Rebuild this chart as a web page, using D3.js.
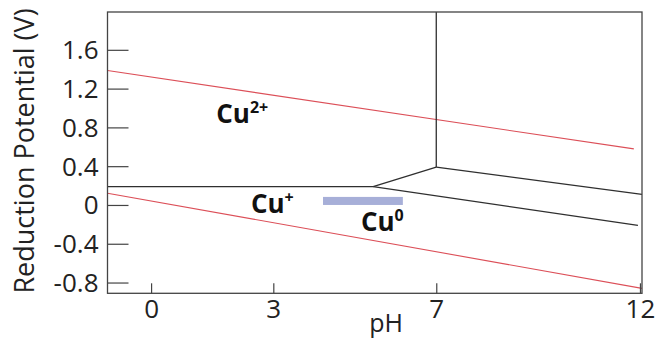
<!DOCTYPE html>
<html>
<head>
<meta charset="utf-8">
<script src="https://cdn.jsdelivr.net/npm/d3@7"></script>
<style>
  html, body { margin: 0; padding: 0; background: #fff; }
  svg { display: block; font-family: "Open Sans", "Noto Sans", sans-serif; }
</style>
</head>
<body>
<svg id="chart" width="657" height="339"></svg>
<script>
// ---- data ----
const xTicks = [0, 3, 7, 12];
const xTickLabels = ["0", "3", "7", "12"];
const yTicks = [-0.8, -0.4, 0, 0.4, 0.8, 1.2, 1.6];
const yTickLabels = ["-0.8", "-0.4", "0", "0.4", "0.8", "1.2", "1.6"];
const pHDomain = [-1.07, 12.05];
const eDomain = [-0.911, 1.99];

// species boundaries (pH, E)
const cu2CuPlus = [[-1.07, 0.19], [5.45, 0.19]];
const cu2Cu0 = [[5.45, 0.19], [7, 0.39]];
const cu2Vertical = [[7, 0.39], [7, 1.99]];
const cuOxideUpper = [[7, 0.39], [12.05, 0.11]];
const cuPlusCu0 = [[5.45, 0.19], [11.95, -0.21]];
// water stability lines
const waterO2 = [[-1.07, 1.386], [11.85, 0.578]];
const waterH2 = [[-1.07, 0.121], [12.05, -0.86]];
// highlighted bar
const barPH = [4.22, 6.18];
const barE = [0, 0.083];
// region labels
const speciesLabels = [
  { base: "Cu", sup: "2+", pH: 1.6, E: 0.85 },
  { base: "Cu", sup: "+", pH: 2.45, E: -0.08 },
  { base: "Cu", sup: "0", pH: 5.15, E: -0.27 }
];

// ---- drawing ----
const svg = d3.select("#chart");
const mLeft = 107.5, mRight = 642, mTop = 12, mBottom = 293.3;
const x = d3.scaleLinear().domain(pHDomain).range([mLeft, mRight]);
const y = d3.scaleLinear().domain(eDomain).range([mBottom, mTop]);

const line = d3.line().x(d => x(d[0])).y(d => y(d[1]));

// blue bar
svg.append("rect")
  .attr("x", x(barPH[0])).attr("width", x(barPH[1]) - x(barPH[0]))
  .attr("y", y(barE[1])).attr("height", y(barE[0]) - y(barE[1]))
  .attr("fill", "#a7afd8");

// red water lines
[waterO2, waterH2].forEach(d => {
  svg.append("path").attr("d", line(d))
    .attr("fill", "none").attr("stroke", "#dc4f58").attr("stroke-width", 1.1);
});

// black boundary lines
[cu2CuPlus, cu2Cu0, cu2Vertical, cuOxideUpper, cuPlusCu0].forEach(d => {
  svg.append("path").attr("d", line(d))
    .attr("fill", "none").attr("stroke", "#2f2f2f").attr("stroke-width", 1.3);
});

// axes
const yAxis = d3.axisLeft(y).tickValues(yTicks)
  .tickFormat((d, i) => yTickLabels[i]).tickSizeInner(-21).tickSizeOuter(0).tickPadding(9);
const gy = svg.append("g").attr("transform", `translate(${mLeft},0)`).call(yAxis);
gy.select(".domain").remove();
gy.selectAll(".tick line").attr("stroke", "#444").attr("stroke-width", 1.2);
gy.selectAll(".tick text").attr("font-size", 26).attr("fill", "#222")
  .attr("font-family", "'Open Sans', sans-serif").attr("dy", "0.34em");

const xAxis = d3.axisBottom(x).tickValues(xTicks)
  .tickFormat((d, i) => xTickLabels[i]).tickSizeInner(-10).tickSizeOuter(0).tickPadding(6);
const gx = svg.append("g").attr("transform", `translate(0,${mBottom})`).call(xAxis);
gx.select(".domain").remove();
gx.selectAll(".tick line").attr("stroke", "#444").attr("stroke-width", 1.2);
gx.selectAll(".tick text").attr("font-size", 26).attr("fill", "#222")
  .attr("font-family", "'Open Sans', sans-serif");

// frame
svg.append("rect")
  .attr("x", mLeft).attr("y", mTop).attr("width", mRight - mLeft).attr("height", mBottom - mTop)
  .attr("fill", "none").attr("stroke", "#444").attr("stroke-width", 1.3);

// axis titles
svg.append("text").text("pH")
  .attr("x", 386).attr("y", 332).attr("text-anchor", "middle")
  .attr("font-size", 25).attr("fill", "#222");
svg.append("text").text("Reduction Potential (V)")
  .attr("transform", "translate(34,151) rotate(-90)")
  .attr("text-anchor", "middle")
  .attr("font-size", 27).attr("fill", "#222");

// species labels
speciesLabels.forEach(l => {
  const t = svg.append("text")
    .attr("x", x(l.pH)).attr("y", y(l.E))
    .attr("font-size", 26).attr("font-weight", "bold").attr("fill", "#111");
  t.append("tspan").text(l.base);
  t.append("tspan").text(l.sup).attr("font-size", 16).attr("dy", -10);
});
</script>
</body>
</html>
